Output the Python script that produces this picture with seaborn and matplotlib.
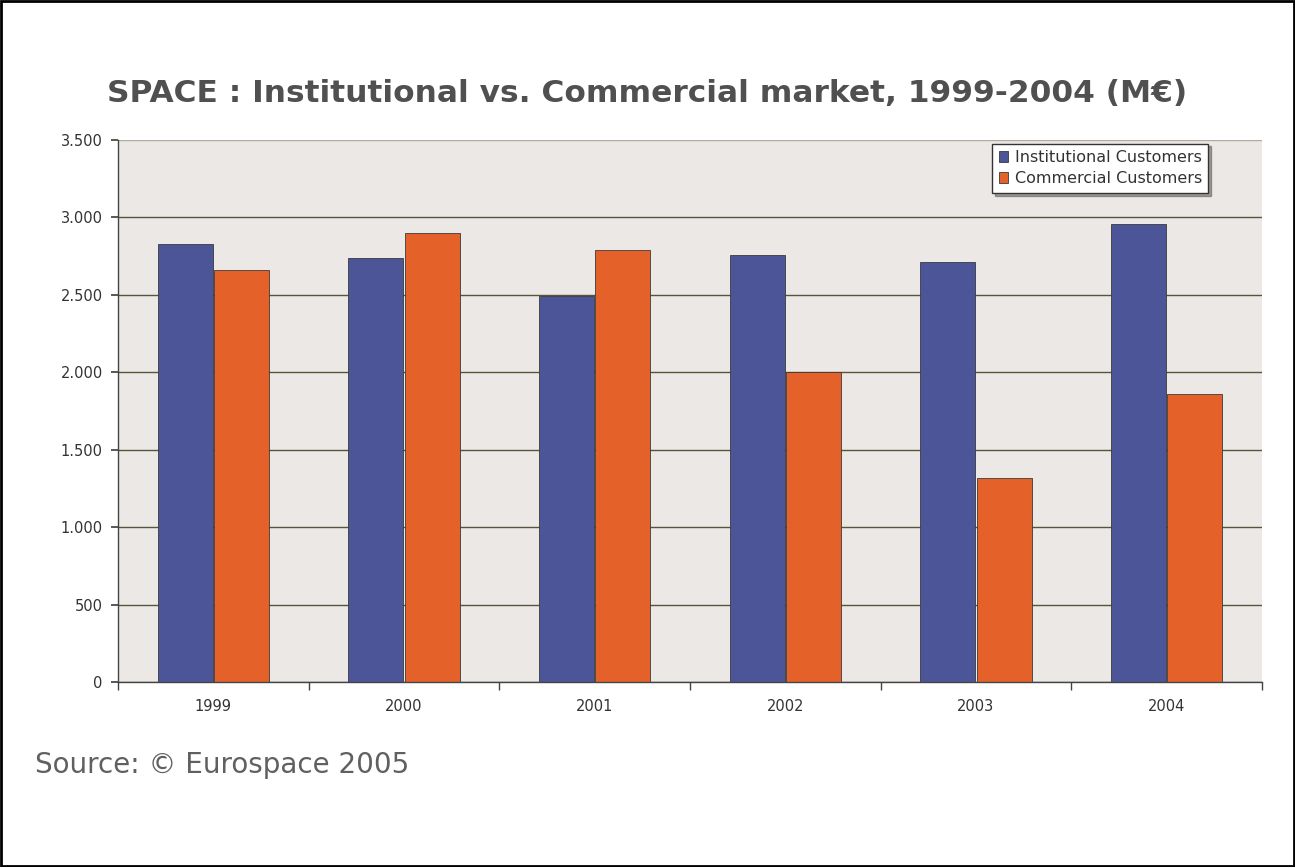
import matplotlib
matplotlib.use("Agg")
import matplotlib.pyplot as plt
import seaborn as sns
import pandas as pd
from matplotlib.ticker import FuncFormatter, FixedLocator
from matplotlib.patches import Rectangle

years = ["1999", "2000", "2001", "2002", "2003", "2004"]
institutional = [2830, 2740, 2490, 2760, 2710, 2960]
commercial = [2660, 2900, 2790, 2000, 1320, 1860]
series_names = ["Institutional Customers", "Commercial Customers"]
yticks = [0, 500, 1000, 1500, 2000, 2500, 3000, 3500]

df = pd.DataFrame({
    "year": years * 2,
    "value": institutional + commercial,
    "series": [series_names[0]] * len(years) + [series_names[1]] * len(years),
})

sns.set_theme(style="white")
plt.rcParams['font.family'] = ['DejaVu Sans']

fig = plt.figure(figsize=(12.95, 8.67), dpi=100)
fig.patch.set_facecolor("white")
# outer border
fig.add_artist(Rectangle((0.001, 0.001), 0.998, 0.998, transform=fig.transFigure,
                         fill=False, edgecolor="black", linewidth=2))

ax = fig.add_axes([0.0911, 0.2134, 0.8834, 0.6251])
ax.set_facecolor("#ebe8e5")

palette = {series_names[0]: "#4b5597", series_names[1]: "#e4622a"}
sns.barplot(data=df, x="year", y="value", hue="series", palette=palette,
            width=0.59, gap=0.02, ax=ax, edgecolor="#3a3a3a", linewidth=0.6,
            saturation=1)

ax.set_ylim(0, 3500)
ax.set_xlim(-0.5, len(years) - 0.5)
ax.set_yticks(yticks)
ax.yaxis.set_major_formatter(FuncFormatter(lambda v, p: f"{int(v):,}".replace(",", ".")))
ax.grid(axis="y", color="#55553a", linewidth=1.0)
ax.set_axisbelow(True)
ax.set_xlabel("")
ax.set_ylabel("")
gl = ax.get_ygridlines()
if gl:
    gl[-1].set_color("#b0aca0")

for s in ["top", "right"]:
    ax.spines[s].set_visible(False)
for s in ["left", "bottom"]:
    ax.spines[s].set_color("#444444")
    ax.spines[s].set_linewidth(1.0)

ax.tick_params(axis="y", which="major", length=5, color="#444444", labelsize=10.5,
               labelcolor="#333333", left=True, pad=6)
ax.tick_params(axis="x", which="major", length=0, labelsize=10.5, labelcolor="#333333", pad=12)
ax.xaxis.set_minor_locator(FixedLocator([i + 0.5 for i in range(-1, len(years))]))
ax.tick_params(axis="x", which="minor", length=6, color="#444444", bottom=True)

leg = ax.legend(loc="upper right", bbox_to_anchor=(0.96, 1.008), frameon=True, fontsize=11.5,
                handlelength=0.6, handleheight=0.7, handletextpad=0.4, borderpad=0.4,
                labelspacing=0.4, fancybox=False, shadow=True)
leg.get_frame().set_edgecolor("#333333")
leg.get_frame().set_facecolor("white")
leg.get_frame().set_linewidth(1.0)
for t in leg.get_texts():
    t.set_color("#333333")

fig.text(0.5, 0.892, "SPACE : Institutional vs. Commercial market, 1999-2004 (M\u20ac)",
         ha="center", va="center", fontsize=22.5, fontweight="heavy", color="#505050")
fig.text(0.027, 0.118, "Source: \u00a9 Eurospace 2005", ha="left", va="center",
         fontsize=20, color="#606060")

fig.savefig("out.png", dpi=100)
